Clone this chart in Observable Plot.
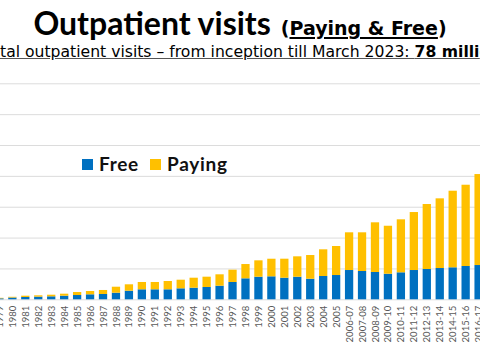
<!DOCTYPE html>
<html>
<head>
<meta charset="utf-8">
<script src="https://cdn.jsdelivr.net/npm/d3@7"></script>
<script src="https://cdn.jsdelivr.net/npm/@observablehq/plot@0.6"></script>
<style>
  html, body { margin: 0; padding: 0; background: #fff; }
  body { width: 480px; height: 360px; overflow: hidden; position: relative; font-family: Lato, "DejaVu Sans", sans-serif; }
  #title { position: absolute; left: 0; width: 480px; top: 8px; text-align: center; white-space: nowrap; color: #000; font-weight: bold; line-height: 30px; }
  #title .big { font-family: Lato, sans-serif; font-size: 32px; font-weight: 700; }
  #title .small { font-family: "DejaVu Sans", sans-serif; font-size: 19px; font-weight: 700; margin-left: 10px; }
  #title .small u { text-decoration-thickness: 2px; text-underline-offset: 2px; }
  #subtitle { position: absolute; top: 44px; left: 0; white-space: nowrap; font-family: "DejaVu Sans", sans-serif; font-size: 13.5px; line-height: 16px; color: #000; text-decoration: underline; text-decoration-color: #555; }
  #chart { position: absolute; left: -40px; top: 62px; width: 560px; height: 298px; }
  #chart svg { max-width: none !important; }
  .leg { position: absolute; font-family: Lato, sans-serif; font-weight: 700; font-size: 19px; line-height: 19px; color: #111; letter-spacing: 0.7px; }
  .sw { position: absolute; width: 11px; height: 11px; }
</style>
</head>
<body>
<div id="title"><span class="big">Outpatient visits</span><span class="small">(<u>Paying &amp; Free</u>)</span></div>
<div id="subtitle"><span id="stA">To</span><span id="stB">tal outpatient visits – from inception till March 2023: <b>78 milli</b></span><b>on</b></div>
<div id="chart"></div>
<div class="sw" style="left:82px;top:159px;background:#0070C0"></div>
<div class="leg" style="left:99px;top:154px">Free</div>
<div class="sw" style="left:150px;top:159px;background:#FFC000"></div>
<div class="leg" style="left:167px;top:154px">Paying</div>
<script>
// Categories (year / financial year)
const categories = ["1979","1980","1981","1982","1983","1984","1985","1986","1987","1988",
  "1989","1990","1991","1992","1993","1994","1995","1996","1997","1998","1999","2000",
  "2001","2002","2003","2004","2005","2006-07","2007-08","2008-09","2009-10","2010-11",
  "2011-12","2012-13","2013-14","2014-15","2015-16","2016-17"];
// Outpatient visits, thousands
const free = [32,58,75,87,97,117,139,162,172,214,
  279,324,324,324,356,376,399,441,561,680,732,745,
  700,732,667,755,787,949,917,885,829,875,
  949,982,1014,1037,1079,1111];
const paying = [16,23,42,42,52,65,97,107,130,194,
  207,237,237,269,279,324,334,369,399,463,531,570,
  616,661,768,865,940,1222,1254,1610,1555,1717,
  1879,2106,2258,2482,2634,2948];
const seriesNames = ["Free", "Paying"];
const seriesColors = ["#0070C0", "#FFC000"];
const gridValues = [0, 1, 2, 3, 4, 5, 6, 7]; // millions

const data = categories.flatMap((c, i) => [
  {cat: c, type: "Free", v: free[i] / 1000},
  {cat: c, type: "Paying", v: paying[i] / 1000}
]);

const chart = Plot.plot({
  width: 560,
  height: 298,
  marginLeft: 10,
  marginRight: 10,
  marginTop: 21.3,
  marginBottom: 60.7,
  style: {fontFamily: '"Liberation Sans Narrow", "Arial Narrow", Lato, sans-serif', fontSize: "9.5px", color: "#595959", background: "transparent", maxWidth: "none"},
  x: {domain: categories, range: [30.6, 527.4], paddingInner: 0.36, paddingOuter: 0.36, align: 0.5, label: null},
  y: {domain: [0, 7], axis: null},
  color: {domain: seriesNames, range: seriesColors},
  marks: [
    Plot.ruleY(gridValues, {stroke: "#dcdcdc", strokeWidth: 1}),
    Plot.barY(data, {x: "cat", y: "v", fill: "type"}),
    Plot.axisX({tickRotate: -90, tickSize: 0, tickPadding: 6, label: null})
  ]
});
chart.style.maxWidth = "none";
document.getElementById("chart").appendChild(chart);

// fit subtitle so the visible part spans the window
const st = document.getElementById("subtitle");
const a = document.getElementById("stA"), b = document.getElementById("stB");
const fs = parseFloat(getComputedStyle(st).fontSize);
const wB = b.getBoundingClientRect().width;
st.style.fontSize = (fs * 480 / wB) + "px";
st.style.left = (-a.getBoundingClientRect().width) + "px";
</script>
</body>
</html>
